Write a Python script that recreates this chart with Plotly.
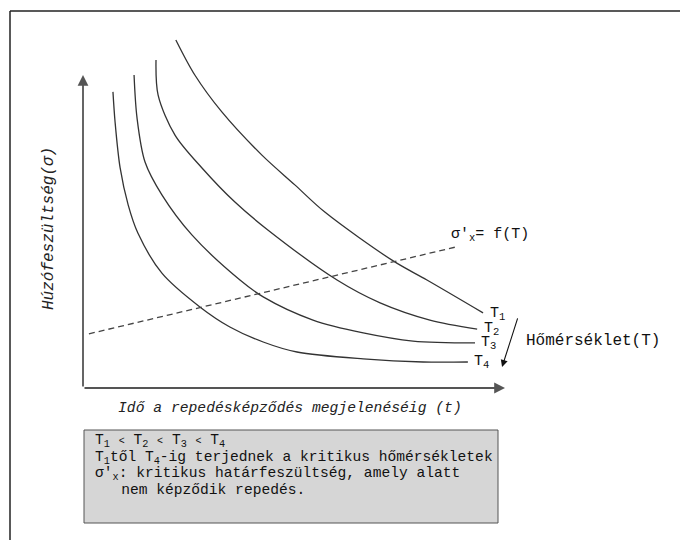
import plotly.graph_objects as go

# Time to crack appearance (t) and tensile stress (sigma)
t_T1 = [2.20, 2.65, 3.29, 4.24, 5.02, 5.73, 7.35, 8.15, 9.48]
s_T1 = [11.12, 10.00, 8.82, 7.44, 6.49, 5.62, 4.06, 3.45, 2.40]

t_T2 = [1.73, 1.78, 2.18, 2.82, 3.60, 4.38, 6.02, 7.04, 8.22, 9.34]
s_T2 = [10.48, 9.36, 8.08, 7.03, 5.94, 5.05, 3.45, 2.72, 2.17, 1.88]

t_T3 = [1.21, 1.28, 1.47, 1.87, 2.58, 3.72, 4.27, 5.45, 6.64, 7.82, 9.29]
s_T3 = [10.00, 8.63, 7.22, 6.17, 4.89, 3.45, 2.91, 2.17, 1.76, 1.50, 1.44]

t_T4 = [0.71, 0.76, 0.88, 1.07, 1.30, 1.87, 2.77, 3.48, 4.27, 5.07, 6.64, 8.06, 9.12]
s_T4 = [9.46, 8.50, 7.03, 5.85, 4.95, 3.67, 2.59, 1.95, 1.47, 1.15, 0.93, 0.83, 0.83]

t_crit = [0.14, 8.82]
s_crit = [1.73, 4.50]

curve_labels = ["T<sub>1</sub>", "T<sub>2</sub>", "T<sub>3</sub>", "T<sub>4</sub>"]

x_title = "Idő a repedésképződés megjelenéséig (t)"
y_title = "Húzófeszültség(σ)"
crit_label = "σ'<sub>x</sub>= f(T)"
temp_label = "Hőmérséklet(T)"
LT = "<span style='font-size:10px'>&lt;</span>"
note_lines = [
    "T<sub>1</sub> " + LT + " T<sub>2</sub> " + LT + " T<sub>3</sub> " + LT + " T<sub>4</sub>",
    "T<sub>1</sub>től T<sub>4</sub>-ig terjednek a kritikus hőmérsékletek",
    "σ'<sub>x</sub>: kritikus határfeszültség, amely alatt",
    "&nbsp;&nbsp;&nbsp;nem képződik repedés.",
]

W, H = 680, 540
FONT = "Liberation Mono, Courier New, monospace"

fig = go.Figure()
for tx, sy, nm in [(t_T1, s_T1, "T1"), (t_T2, s_T2, "T2"), (t_T3, s_T3, "T3"), (t_T4, s_T4, "T4")]:
    fig.add_trace(go.Scatter(x=tx, y=sy, mode="lines", name=nm,
                             line=dict(color="#333333", width=1.3, shape="spline", smoothing=0.9),
                             hoverinfo="skip", showlegend=False))
fig.add_trace(go.Scatter(x=t_crit, y=s_crit, mode="lines", name="crit",
                         line=dict(color="#444444", width=1.3, dash="6px,4px"),
                         hoverinfo="skip", showlegend=False))

ann = []
# axes with arrows
ann.append(dict(x=10, y=0, ax=0, ay=0, xref="x", yref="y", axref="x", ayref="y",
                showarrow=True, arrowhead=2, arrowsize=1.2, arrowwidth=1.8, arrowcolor="#555555", text=""))
ann.append(dict(x=0, y=10, ax=0, ay=0, xref="x", yref="y", axref="x", ayref="y",
                showarrow=True, arrowhead=2, arrowsize=1.2, arrowwidth=1.8, arrowcolor="#555555", text=""))
# temperature arrow
ann.append(dict(x=9.93, y=0.67, ax=10.31, ay=2.27, xref="x", yref="y", axref="x", ayref="y",
                showarrow=True, arrowhead=2, arrowsize=1.3, arrowwidth=1.1, arrowcolor="#111111", text=""))

# curve labels at curve ends
label_dx = [0.12, 0.12, 0.10, 0.10]
label_dy = [-0.05, 0.0, 0.0, 0.0]
for tx, sy, lab, dx, dy in zip([t_T1, t_T2, t_T3, t_T4], [s_T1, s_T2, s_T3, s_T4], curve_labels, label_dx, label_dy):
    ann.append(dict(x=tx[-1] + dx, y=sy[-1] + dy, xref="x", yref="y", text=lab, showarrow=False,
                    xanchor="left", yanchor="middle", font=dict(family=FONT, size=15, color="#111111")))

ann.append(dict(x=t_crit[-1] - 0.15, y=s_crit[-1] + 0.4, xref="x", yref="y", text=crit_label, showarrow=False,
                xanchor="left", yanchor="middle", font=dict(family=FONT, size=15, color="#111111")))
ann.append(dict(x=10.45, y=1.5, xref="x", yref="y", text=temp_label, showarrow=False,
                xanchor="left", yanchor="middle", font=dict(family=FONT, size=16, color="#111111")))

# axis titles
ann.append(dict(x=290 / W, y=1 - 408 / H, xref="paper", yref="paper", text="<i>" + x_title + "</i>",
                showarrow=False, xanchor="center", yanchor="middle",
                font=dict(family=FONT, size=14.7, color="#222222")))
ann.append(dict(x=49 / W, y=1 - 228 / H, xref="paper", yref="paper", text="<i>" + y_title + "</i>",
                showarrow=False, xanchor="center", yanchor="middle", textangle=-90,
                font=dict(family=FONT, size=16, color="#222222")))

# note box lines
note_y = [441, 458, 474, 490]
for line, yy in zip(note_lines, note_y):
    ann.append(dict(x=93 / W, y=1 - yy / H, xref="paper", yref="paper", text=line,
                    showarrow=False, xanchor="left", yanchor="middle",
                    font=dict(family=FONT, size=14.6, color="#111111")))

shapes = [
    # outer frame (top and left)
    dict(type="line", xref="paper", yref="paper", x0=10 / W, x1=1, y0=1 - 11 / H, y1=1 - 11 / H,
         line=dict(color="#222222", width=1.5)),
    dict(type="line", xref="paper", yref="paper", x0=10 / W, x1=10 / W, y0=0, y1=1 - 11 / H,
         line=dict(color="#222222", width=1.5)),
    # note box
    dict(type="rect", xref="paper", yref="paper", x0=84 / W, x1=498 / W, y0=1 - 523 / H, y1=1 - 430 / H,
         fillcolor="#d6d6d6", line=dict(color="#555555", width=1), layer="below"),
]

px_per_t = 42.2
px_per_s = 31.3
x0_px, y0_px = 83, 388

fig.update_layout(
    width=W, height=H,
    margin=dict(l=0, r=0, t=0, b=0),
    paper_bgcolor="white", plot_bgcolor="white",
    xaxis=dict(range=[-x0_px / px_per_t, (W - x0_px) / px_per_t], visible=False, fixedrange=True),
    yaxis=dict(range=[(y0_px - H) / px_per_s, y0_px / px_per_s], visible=False, fixedrange=True),
    annotations=ann, shapes=shapes, showlegend=False,
)

fig.write_html("out.html", config={"displayModeBar": False},
               post_script="document.body.style.margin='0';document.body.style.padding='0';document.body.style.overflow='hidden';")
